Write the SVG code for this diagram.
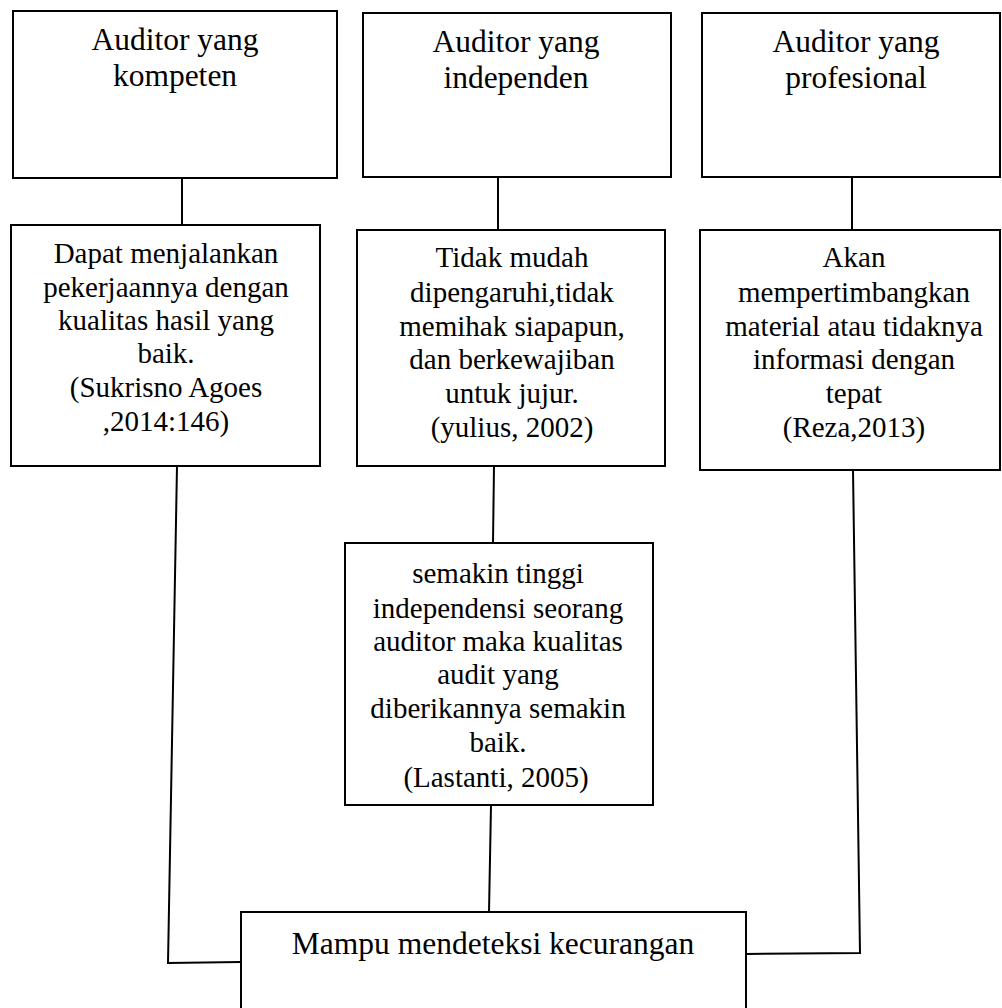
<svg xmlns="http://www.w3.org/2000/svg" width="1002" height="1008" viewBox="0 0 1002 1008">
<style>
rect{fill:#fff;stroke:#000;stroke-width:2}
.c line,.c polyline{stroke:#000;stroke-width:2;fill:none}
text{font-family:"Liberation Serif","Times New Roman",serif;fill:#000;text-anchor:middle}
.t{font-size:31.5px}
.b{font-size:29px}
</style>
<rect x="0" y="0" width="1002" height="1008" style="stroke:none"/>
<g class="c" id="connectors">
<line x1="182" y1="178" x2="182" y2="225"/>
<line x1="498" y1="177" x2="498" y2="230"/>
<line x1="852" y1="177" x2="852" y2="230"/>
<line x1="494" y1="466" x2="493" y2="543"/>
<polyline points="177,466 168,963 241,962"/>
<line x1="491" y1="805" x2="489" y2="912"/>
<polyline points="853,470 860,953 746,954"/>
</g>
<g id="n1"><rect x="13" y="11" width="324" height="167"/>
<text class="t" x="175" y="50">Auditor yang</text><text class="t" x="175" y="86">kompeten</text></g>
<g id="n2"><rect x="363" y="13" width="308" height="164"/>
<text class="t" x="516" y="52">Auditor yang</text><text class="t" x="516" y="88">independen</text></g>
<g id="n3"><rect x="702" y="13" width="298" height="164"/>
<text class="t" x="856" y="52">Auditor yang</text><text class="t" x="856" y="88">profesional</text></g>
<g id="n4"><rect x="11" y="225" width="309" height="241"/>
<text class="b" x="166" y="263">Dapat menjalankan</text>
<text class="b" x="166" y="297">pekerjaannya dengan</text>
<text class="b" x="166" y="330">kualitas hasil yang</text>
<text class="b" x="166" y="363">baik.</text>
<text class="b" x="166" y="397">(Sukrisno Agoes</text>
<text class="b" x="166" y="431">,2014:146)</text></g>
<g id="n5"><rect x="357" y="230" width="308" height="236"/>
<text class="b" x="512" y="267">Tidak mudah</text>
<text class="b" x="512" y="302">dipengaruhi,tidak</text>
<text class="b" x="512" y="336">memihak siapapun,</text>
<text class="b" x="512" y="369">dan berkewajiban</text>
<text class="b" x="512" y="403">untuk jujur.</text>
<text class="b" x="512" y="437">(yulius, 2002)</text></g>
<g id="n6"><rect x="700" y="230" width="300" height="240"/>
<text class="b" x="854" y="267">Akan</text>
<text class="b" x="854" y="302">mempertimbangkan</text>
<text class="b" x="854" y="336">material atau tidaknya</text>
<text class="b" x="854" y="369">informasi dengan</text>
<text class="b" x="854" y="403">tepat</text>
<text class="b" x="854" y="437">(Reza,2013)</text></g>
<g id="n7"><rect x="345" y="543" width="308" height="262"/>
<text class="b" x="498" y="583">semakin tinggi</text>
<text class="b" x="498" y="618">independensi seorang</text>
<text class="b" x="498" y="651">auditor maka kualitas</text>
<text class="b" x="498" y="684">audit yang</text>
<text class="b" x="498" y="718">diberikannya semakin</text>
<text class="b" x="498" y="752">baik.</text>
<text class="b" x="496" y="787">(Lastanti, 2005)</text></g>
<g id="n8"><rect x="241" y="912" width="505" height="110"/>
<text class="t" x="493" y="954">Mampu mendeteksi kecurangan</text></g>
</svg>
